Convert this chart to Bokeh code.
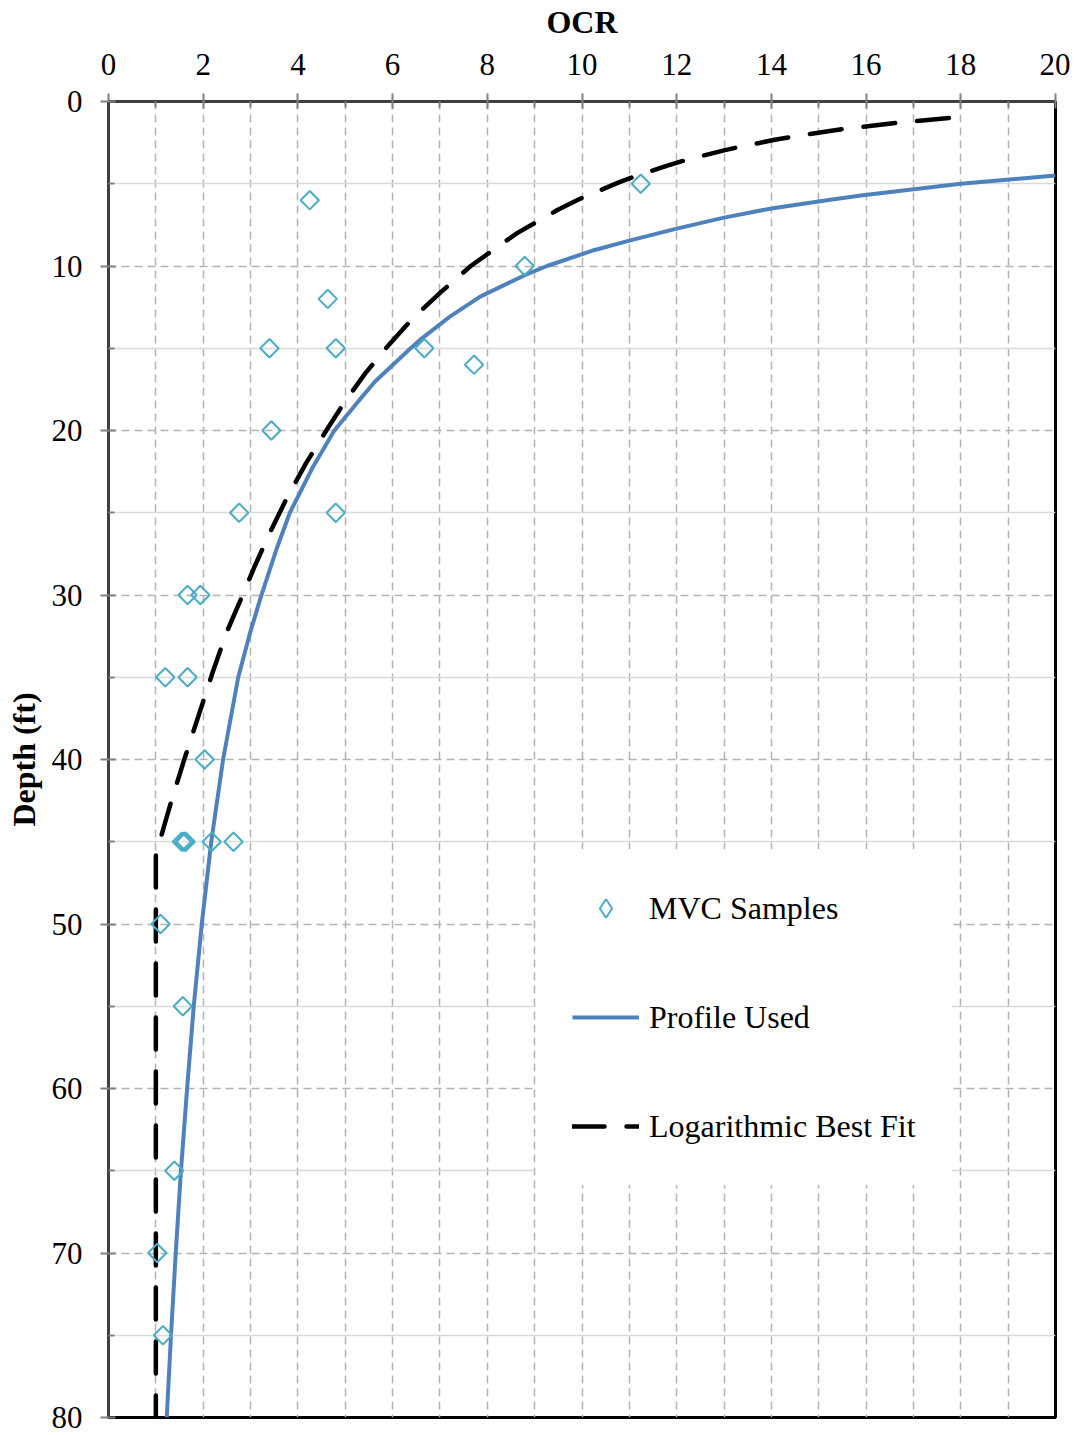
from bokeh.plotting import figure
from bokeh.models import FixedTicker, Legend, LegendItem, Range1d
from bokeh.embed import file_html
from bokeh.resources import INLINE
import numpy as np

# MVC sample points (OCR, depth ft)
sample_ocr = [4.25, 11.24, 8.79, 4.63, 3.40, 4.80, 6.67, 7.72, 3.44, 2.76, 4.80,
              1.67, 1.94, 1.20, 1.67, 2.03, 1.55, 1.60, 1.63, 2.18, 2.64,
              1.10, 1.57, 1.39, 1.03, 1.15]
sample_depth = [6, 5, 10, 12, 15, 15, 15, 16, 20, 25, 25,
                30, 30, 35, 35, 40, 45, 45, 45, 45, 45,
                50, 55, 65, 70, 75]

# Profile used
profile_depth = [4.5, 5.0, 5.7, 6.0, 6.5, 7.06, 7.73, 8.44, 9.04, 10, 10.56, 11.86, 13.08, 14.4, 15,
                 17.02, 18.14, 20, 22.2, 25, 27.2, 30, 32.3, 35, 40, 45, 50, 55, 60, 65, 70, 75, 80]
profile_ocr = [20.0, 18.0, 15.93, 15.17, 14.0, 13.0, 12.0, 11.02, 10.25, 9.26, 8.79, 7.85, 7.21, 6.62, 6.38,
               5.63, 5.30, 4.77, 4.32, 3.83, 3.55, 3.23, 2.99, 2.74, 2.42, 2.17, 1.97, 1.80, 1.66,
               1.53, 1.42, 1.32, 1.23]

# Logarithmic best fit
fit_depth = [1, 1.3, 1.66, 2.06, 2.33, 2.77, 2.97, 3.58, 3.88, 4.5, 4.9, 5.9, 6.6, 8, 10, 11.56, 13.08,
             14.9, 16.5, 18.3, 20, 22, 24.2, 26.2, 28.3, 30.5, 32.3, 34.7, 37, 40, 42.5, 45, 45.6, 80]
fit_ocr = [17.75, 16.64, 15.56, 14.61, 14.07, 13.31, 13.0, 12.17, 11.82, 11.17, 10.79, 9.97, 9.48, 8.63,
           7.65, 7.03, 6.46, 5.89, 5.43, 4.98, 4.6, 4.17, 3.75, 3.41, 3.08, 2.76, 2.49, 2.2, 1.94, 1.6,
           1.33, 1.08, 1.0, 1.0]

x_ticks = list(range(0, 21, 2))
x_minor = list(range(1, 20, 2))
y_ticks = list(range(0, 81, 10))
y_minor = list(range(5, 80, 10))

FONT = "Liberation Serif"

p = figure(frame_width=947, frame_height=1316,
           x_range=Range1d(0, 20), y_range=Range1d(80, 0),
           x_axis_location="above", output_backend="svg", toolbar_location=None,
           min_border_left=108, min_border_top=100, min_border_right=15, min_border_bottom=19)

p.xaxis.ticker = FixedTicker(ticks=x_ticks, minor_ticks=x_minor)
p.yaxis.ticker = FixedTicker(ticks=y_ticks, minor_ticks=y_minor)

for ax in (p.xaxis, p.yaxis):
    ax.axis_label_text_font = FONT
    ax.axis_label_text_font_style = "bold"
    ax.axis_label_text_font_size = "32px"
    ax.axis_label_text_color = "black"
    ax.major_label_text_font = FONT
    ax.major_label_text_font_size = "31px"
    ax.major_label_text_color = "black"
    ax.major_tick_in = 7
    ax.major_tick_out = 8
    ax.minor_tick_in = 6
    ax.minor_tick_out = 0
    ax.major_tick_line_color = "#808080"
    ax.minor_tick_line_color = "#808080"
    ax.major_tick_line_width = 2
    ax.minor_tick_line_width = 2
    ax.axis_line_color = "#404040"
    ax.axis_line_width = 3

p.xaxis.axis_label = "OCR"
p.yaxis.axis_label = "Depth (ft)"
p.xaxis.major_label_standoff = 19
p.xaxis.axis_label_standoff = 11
p.yaxis.major_label_standoff = 18
p.yaxis.axis_label_standoff = 7
p.yaxis.major_label_orientation = "horizontal"

p.outline_line_color = "black"
p.outline_line_width = 3

grid_col = "#b3b3b3"
p.xgrid.grid_line_color = grid_col
p.xgrid.grid_line_dash = "8 5"
p.xgrid.grid_line_width = 1.5
p.xgrid.minor_grid_line_color = grid_col
p.xgrid.minor_grid_line_dash = "8 5"
p.xgrid.minor_grid_line_width = 1.5
p.ygrid.grid_line_color = grid_col
p.ygrid.grid_line_dash = "8 5"
p.ygrid.grid_line_width = 1.5
p.ygrid.minor_grid_line_color = "#d9d9d9"
p.ygrid.minor_grid_line_width = 1.5

r_prof = p.line(profile_ocr, profile_depth, line_color="#4f81bd", line_width=4)
r_fit = p.line(fit_ocr, fit_depth, line_color="black", line_width=4.5,
               line_dash="32 22", line_cap="round")
r_pts = p.scatter(sample_ocr, sample_depth, marker="square", angle=np.pi / 4, size=13,
                  fill_alpha=0, line_color="#4bacc6", line_width=2)
# legend-only marker (legend icons ignore angle, so use the diamond marker); not drawn in the plot
r_pts_leg = p.scatter(x=[float("nan")], y=[float("nan")], marker="diamond", fill_alpha=0,
                      line_color="#4bacc6", line_width=2)

legend = Legend(items=[LegendItem(label="MVC Samples", renderers=[r_pts_leg]),
                       LegendItem(label="Profile Used", renderers=[r_prof]),
                       LegendItem(label="Logarithmic Best Fit", renderers=[r_fit])],
                location=(428, 232), padding=35, spacing=63, margin=0,
                glyph_width=67, glyph_height=46, label_height=46, label_standoff=10,
                label_text_font=FONT, label_text_font_size="32px", label_text_color="black",
                border_line_color="white", border_line_width=1,
                background_fill_color="white", background_fill_alpha=1)
p.add_layout(legend)

open("out.html", "w").write(file_html(p, INLINE))
